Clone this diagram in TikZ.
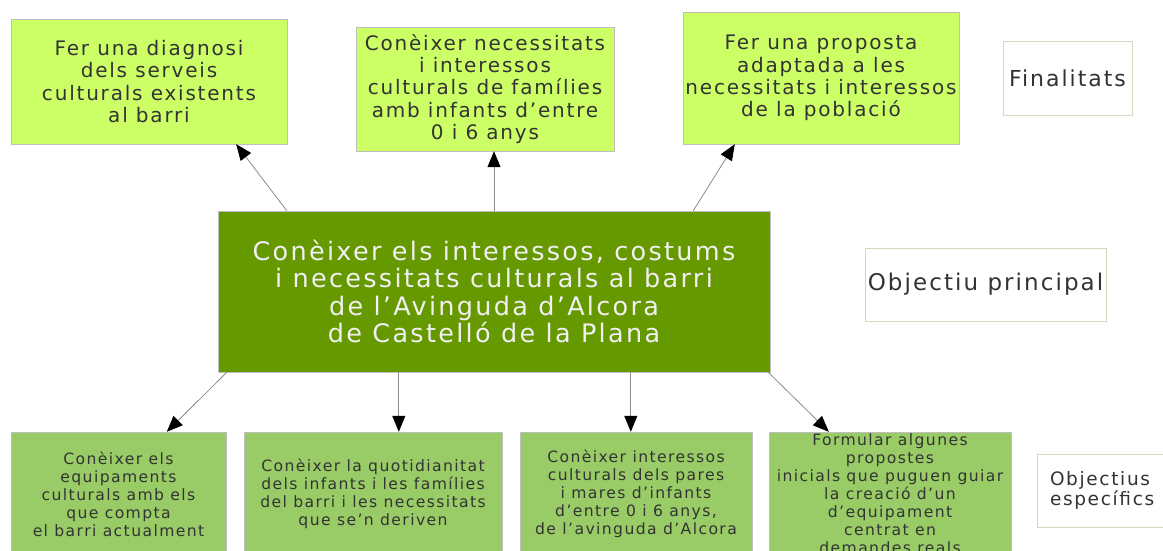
\documentclass[tikz,border=0pt]{standalone}
\usepackage{fontspec}
\setmainfont{DejaVu Sans}[LetterSpace=9]
\usetikzlibrary{arrows.meta}
\definecolor{lima}{RGB}{204,255,102}
\definecolor{oliva}{RGB}{102,153,0}
\definecolor{festuc}{RGB}{153,204,102}
\definecolor{lletra}{RGB}{51,51,51}
\definecolor{vora}{RGB}{214,214,190}

\begin{document}
\begin{tikzpicture}[x=1pt, y=-1pt,
    box/.style={draw=black!25, inner sep=0pt, align=center, text=lletra},
    fin/.style={box, fill=lima, font=\fontsize{20}{22.3}\selectfont},
    obj/.style={box, fill=festuc, font=\fontsize{15.6}{18}\selectfont},
    tag/.style={draw=vora, fill=white, inner sep=0pt, text=lletra},
    arr/.style={draw=black!45, line width=0.8pt, -{Triangle[length=16pt, width=13pt, black]}}]
  \fill[white] (0,0) rectangle (1163,551);
  \useasboundingbox (0,0) rectangle (1163,551);

  % finalitats
  \node[fin, minimum width=276pt, minimum height=125pt] (t1) at (149,81.5)
    {Fer una diagnosi\\ dels serveis\\ culturals existents\\ al barri};
  \node[fin, minimum width=258pt, minimum height=124pt] (t2) at (485,89)
    {Conèixer necessitats\\ i interessos\\ culturals de famílies\\ amb infants d'entre\\ 0 i 6 anys};
  \node[fin, minimum width=276pt, minimum height=132pt] (t3) at (821,78)
    {Fer una proposta\\ adaptada a les\\ necessitats i interessos\\ de la població};

  % objectiu principal
  \node[box, fill=oliva, text=white!94!black, font=\fontsize{25.5}{27.5}\selectfont,
        minimum width=552pt, minimum height=161pt] (cen) at (494,291.5)
    {Conèixer els interessos, costums\\ i necessitats culturals al barri\\ de l’Avinguda d’Alcora\\ de Castelló de la Plana};

  % objectius especifics
  \node[obj, minimum width=215pt, minimum height=124pt] (b1) at (118.5,494)
    {Conèixer els\\ equipaments\\ culturals amb els\\ que compta\\ el barri actualment};
  \node[obj, minimum width=258pt, minimum height=124pt] (b2) at (373,494)
    {Conèixer la quotidianitat\\ dels infants i les famílies\\ del barri i les necessitats\\ que se'n deriven};
  \node[obj, minimum width=232pt, minimum height=124pt] (b3) at (636,494)
    {Conèixer interessos\\ culturals dels pares\\ i mares d'infants\\ d'entre 0 i 6 anys,\\ de l'avinguda d'Alcora};
  \node[obj, minimum width=242pt, minimum height=124pt] (b4) at (890,494)
    {Formular algunes\\ propostes\\ inicials que puguen guiar\\ la creació d'un\\ d'equipament\\ centrat en\\ demandes reals};

  % etiquetes
  \node[tag, font=\fontsize{22}{25}\selectfont, minimum width=129pt, minimum height=74pt] (lfin) at (1067.5,78) {Finalitats};
  \node[tag, font=\fontsize{23}{25}\selectfont, minimum width=241pt, minimum height=73pt] (lcen) at (985.5,284.5) {Objectiu principal};
  \node[tag, font=\fontsize{18.5}{20}\selectfont, align=left, text width=114pt, inner xsep=13pt,
        minimum width=140pt, minimum height=73pt] (lobj) at (1107,490.5) {Objectius\\ específics};

  % fletxes
  \draw[arr] ([xshift=69pt]cen.north west) -- ([xshift=-51pt]t1.south east);
  \draw[arr] (cen.north) -- (cen.north |- t2.south);
  \draw[arr] ([xshift=-77pt]cen.north east) -- ([xshift=52pt]t3.south west);
  \draw[arr] ([xshift=9pt]cen.south west) -- ([xshift=156pt]b1.north west);
  \draw[arr] ([xshift=181pt]cen.south west) -- ([xshift=181pt]cen.south west |- b2.north);
  \draw[arr] ([xshift=413pt]cen.south west) -- ([xshift=413pt]cen.south west |- b3.north);
  \draw[arr] ([xshift=-2pt]cen.south east) -- ([xshift=60pt]b4.north west);
\end{tikzpicture}
\end{document}
